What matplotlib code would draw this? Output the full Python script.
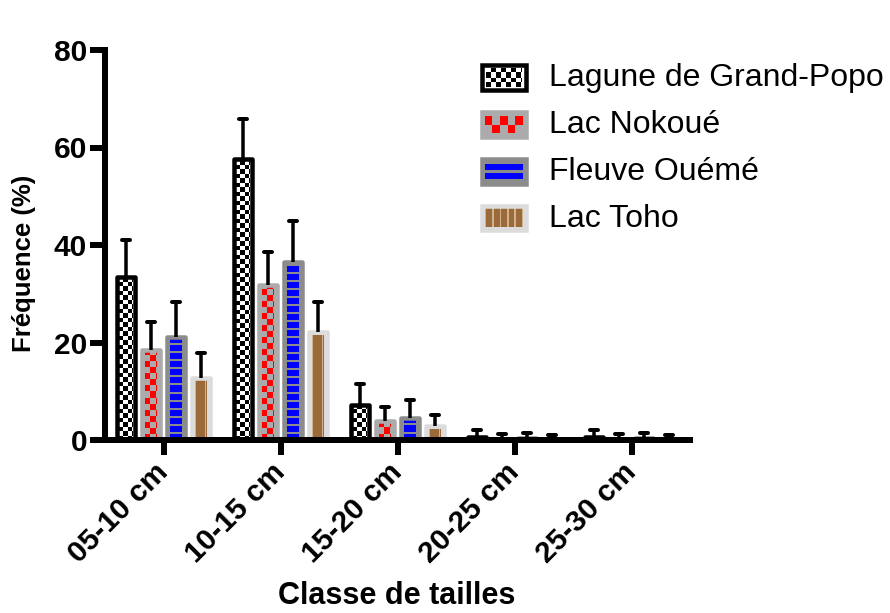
import numpy as np
import matplotlib
matplotlib.use("Agg")
import matplotlib.pyplot as plt
from matplotlib.colors import to_rgb
from matplotlib.patches import Rectangle

# ---- data -------------------------------------------------------------
categories = ["05-10 cm", "10-15 cm", "15-20 cm", "20-25 cm", "25-30 cm"]
series = ["Lagune de Grand-Popo", "Lac Nokoué", "Fleuve Ouémé", "Lac Toho"]

grand_popo = [33.5, 57.7, 7.1, 0.6, 0.6]
grand_popo_err = [7.5, 8.1, 4.4, 1.45, 1.45]
nokoue = [18.5, 31.8, 3.9, 0.3, 0.3]
nokoue_err = [5.7, 6.8, 2.9, 0.9, 0.9]
oueme = [21.2, 36.5, 4.6, 0.4, 0.4]
oueme_err = [7.1, 8.4, 3.6, 1.1, 1.1]
toho = [12.8, 22.1, 2.8, 0.2, 0.2]
toho_err = [5.1, 6.3, 2.3, 0.8, 0.8]

yticks = [0, 20, 40, 60, 80]

values = [grand_popo, nokoue, oueme, toho]
errors = [grand_popo_err, nokoue_err, oueme_err, toho_err]

# ---- styling ------------------------------------------------------------
FONT = "Liberation Sans"
plt.rcParams["font.family"] = [FONT, "DejaVu Sans"]

DPI = 100
W_PX, H_PX = 890, 613
EDGE_PX = 4.5
PT = 72.0 / DPI  # points per pixel

styles = {
    "Lagune de Grand-Popo": dict(kind="checker", edge="#000000", bg="#ffffff", fg="#000000"),
    "Lac Nokoué": dict(kind="checker", edge="#ababab", bg="#ababab", fg="#ff0000"),
    "Fleuve Ouémé": dict(kind="hstripes", edge="#8c8c8c", bg="#8c8c8c", fg="#0000ff"),
    "Lac Toho": dict(kind="vstripes", edge="#dcdcdc", bg="#dcdcdc", fg="#9c6a38",
                     light="#cdb392"),
}

# pattern geometry inside the bars (pixels)
bar_geom = {
    "Lagune de Grand-Popo": dict(mx=2.0, mt=2.0, mb=0, cw=4.5, ch=4.5, phase=0),
    "Lac Nokoué": dict(mx=3.0, mt=3.5, mb=0, cw=5.5, ch=6.0, phase=0),
    "Fleuve Ouémé": dict(mx=3.5, mt=3.5, mb=0, period=8.0, thick=6.0),
    "Lac Toho": dict(mx=3.5, mt=3.5, mb=0, period=10.0, gap=1.0),
}
# pattern geometry inside the legend swatches (pixels)
leg_geom = {
    "Lagune de Grand-Popo": dict(mx=4.5, mt=2.8, mb=2.8, cw=5.0, ch=4.75, phase=0),
    "Lac Nokoué": dict(mx=2.8, mt=4.0, mb=4.5, cw=7.6, ch=8.0, phase=1),
    "Fleuve Ouémé": dict(mx=2.8, mt=4.0, mb=5.5, period=7.5, thick=6.0),
    "Lac Toho": dict(mx=2.8, mt=3.3, mb=3.3, period=7.4, gap=1.5),
}


def paint(ax, rect, st, g):
    """Fill a rectangle patch with a pixel pattern, clipped to the patch."""
    x0, y0 = rect.get_x(), rect.get_y()
    x1, y1 = x0 + rect.get_width(), y0 + rect.get_height()
    (X0, Y0), (X1, Y1) = ax.transData.transform([(x0, y0), (x1, y1)])
    w = max(int(round(X1 - X0)), 1)
    h = max(int(round(Y1 - Y0)), 1)
    c = np.arange(w)[None, :] + 0.5 + np.zeros((h, 1))
    r = np.arange(h)[:, None] + 0.5 + np.zeros((1, w))
    img = np.empty((h, w, 3))
    img[:] = to_rgb(st["bg"])
    u = c - g["mx"]
    v = r - g["mb"]
    inner = (c >= g["mx"]) & (c <= w - g["mx"]) & (r >= g["mb"]) & (r <= h - g["mt"])
    if st["kind"] == "checker":
        m = ((np.floor(u / g["cw"]) + np.floor(v / g["ch"]) + g["phase"]) % 2 == 0)
    elif st["kind"] == "hstripes":
        m = (v % g["period"]) < g["thick"]
    else:
        img[inner & ((u % g["period"]) < g["gap"])] = to_rgb(st["light"])
        m = (u % g["period"]) >= g["gap"]
    img[inner & m] = to_rgb(st["fg"])
    im = ax.imshow(img, extent=(x0, x1, y0, y1), origin="lower",
                   interpolation="nearest", aspect="auto", zorder=2.1)
    im.set_clip_path(rect)


fig = plt.figure(figsize=(W_PX / DPI, H_PX / DPI), dpi=DPI)
ax_left, ax_right, ax_top, ax_bot = 105, 690, 50, 440
ax = fig.add_axes([ax_left / W_PX, 1 - ax_bot / H_PX,
                   (ax_right - ax_left) / W_PX, (ax_bot - ax_top) / H_PX])
ax.set_xlim(-0.5, len(categories) - 0.5)
ax.set_ylim(0, 80)
ax.set_autoscale_on(False)

x = np.arange(len(categories))
px_per_unit = (ax_right - ax_left) / len(categories)
step = 25.0 / px_per_unit
bar_w = 17.5 / px_per_unit
cap_half = 4.0 / px_per_unit
offsets = (np.arange(len(series)) - 1.5) * step

for name, vals, errs, off in zip(series, values, errors, offsets):
    st = styles[name]
    xs = x + off
    vals = np.asarray(vals)
    tops = vals + np.asarray(errs)
    bars = ax.bar(xs, vals, width=bar_w, color=st["bg"], edgecolor="none",
                  linewidth=0, zorder=2)
    for b in bars:
        paint(ax, b, st, bar_geom[name])
        ax.add_patch(Rectangle((b.get_x(), b.get_y()), b.get_width(), b.get_height(),
                               facecolor="none", edgecolor=st["edge"],
                               linewidth=EDGE_PX * PT, joinstyle="round", zorder=2.2))
    # upper error bars only: stem plus rounded cap
    ax.vlines(xs, vals, tops, colors="black", linewidth=3.5 * PT,
              capstyle="butt", zorder=2.3)
    ax.hlines(tops, xs - cap_half, xs + cap_half, colors="black",
              linewidth=4.0 * PT, capstyle="round", zorder=2.3)

for s in ["top", "right"]:
    ax.spines[s].set_visible(False)
for s in ["left", "bottom"]:
    ax.spines[s].set_linewidth(6 * PT)
    ax.spines[s].set_capstyle("projecting")

ax.set_yticks(yticks)
ax.set_xticks(x)
ax.set_xticklabels(categories, rotation=45, ha="right", va="center",
                   rotation_mode="anchor")
ax.tick_params(axis="both", direction="out", length=15 * PT, width=6 * PT,
               labelsize=21.5)
ax.tick_params(axis="y", pad=2)
ax.tick_params(axis="x", pad=9)
for lab in ax.get_xticklabels() + ax.get_yticklabels():
    lab.set_fontweight("bold")

fig.text(24 / W_PX, 1 - 263.5 / H_PX, "Fréquence (%)", rotation=90,
         ha="center", va="center", fontsize=18.5, fontweight="bold")
fig.text(397 / W_PX, 1 - 603.5 / H_PX, "Classe de tailles", ha="center",
         va="baseline", fontsize=22, fontweight="bold")

# ---- legend -------------------------------------------------------------
sw_x0, sw_x1 = 480 + EDGE_PX / 2, 528 - EDGE_PX / 2
sw_tops = [63, 110, 157, 203.5]
sw_h = 29
baselines = [86, 133, 180, 227]
for name, top, base in zip(series, sw_tops, baselines):
    st = styles[name]
    t = top + EDGE_PX / 2
    b = top + sw_h - EDGE_PX / 2
    lax = fig.add_axes([sw_x0 / W_PX, 1 - b / H_PX, (sw_x1 - sw_x0) / W_PX, (b - t) / H_PX])
    lax.set_xlim(0, 1)
    lax.set_ylim(0, 1)
    lax.set_autoscale_on(False)
    lax.axis("off")
    rect = Rectangle((0, 0), 1, 1, facecolor=st["bg"], edgecolor="none", zorder=2)
    lax.add_patch(rect)
    paint(lax, rect, st, leg_geom[name])
    lax.add_patch(Rectangle((0, 0), 1, 1, facecolor="none", edgecolor=st["edge"],
                            linewidth=EDGE_PX * PT, clip_on=False, zorder=2.2))
    fig.text(549 / W_PX, 1 - base / H_PX, name, ha="left", va="baseline",
             fontsize=23)

fig.savefig("out.png", dpi=DPI, facecolor="white")
